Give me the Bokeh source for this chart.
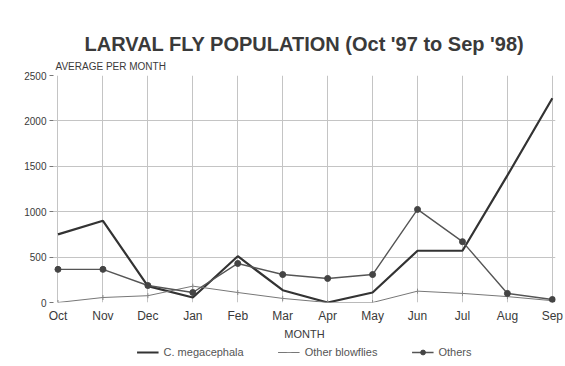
from bokeh.plotting import figure
from bokeh.layouts import column
from bokeh.models import (Range1d, FixedTicker, Title, Legend, LegendItem)
from bokeh.embed import file_html
from bokeh.resources import INLINE

months = ["Oct", "Nov", "Dec", "Jan", "Feb", "Mar", "Apr", "May", "Jun", "Jul", "Aug", "Sep"]
c_megacephala = [750, 900, 180, 55, 510, 135, 0, 110, 570, 570, 1400, 2250]
other_blowflies = [0, 55, 75, 180, 110, 45, 0, 0, 125, 100, 65, 20]
others = [365, 365, 187, 110, 430, 308, 265, 308, 1025, 670, 100, 33]
y_ticks = [0, 500, 1000, 1500, 2000, 2500]

x = list(range(len(months)))
FONT = "Liberation Sans"
INK = "#3a3a3a"

p = figure(frame_width=502, frame_height=227, output_backend="svg", toolbar_location=None,
           x_range=Range1d(-0.1, 11.07), y_range=Range1d(0, 2500),
           min_border_left=53, min_border_right=10, min_border_top=75, min_border_bottom=44)
p.outline_line_color = None
p.background_fill_color = "white"
p.border_fill_color = "white"

# main title (outer) and subtitle (closest to the frame)
p.title.text = "LARVAL FLY POPULATION (Oct '97 to Sep '98)"
p.title.text_font = FONT
p.title.text_font_size = "20px"
p.title.text_font_style = "bold"
p.title.text_color = INK
p.title.align = "center"
p.title.standoff = 0
p.add_layout(Title(text="AVERAGE PER MONTH", text_font=FONT, text_font_size="10px",
                   text_font_style="normal", text_color=INK, align="left",
                   offset=2, standoff=8), "above")

p.xaxis.ticker = FixedTicker(ticks=x)
p.xaxis.major_label_overrides = {i: m for i, m in enumerate(months)}
p.yaxis.ticker = FixedTicker(ticks=y_ticks)
for ax in (p.xaxis, p.yaxis):
    ax.axis_line_color = None
    ax.major_label_text_font = FONT
    ax.major_label_text_color = INK
    ax.minor_tick_line_color = None
p.xaxis.major_tick_line_color = None
p.xaxis.major_tick_out = 0
p.xaxis.major_label_text_font_size = "12px"
p.xaxis.major_label_standoff = 6
p.yaxis.major_label_text_font_size = "10px"
p.yaxis.major_tick_line_color = "#777"
p.yaxis.major_tick_out = 4
p.yaxis.major_tick_in = 0
p.yaxis.major_label_standoff = 3
p.xaxis.axis_label = "MONTH"
p.xaxis.axis_label_text_font = FONT
p.xaxis.axis_label_text_font_size = "11px"
p.xaxis.axis_label_text_font_style = "normal"
p.xaxis.axis_label_text_color = INK
p.xaxis.axis_label_standoff = 2

p.grid.grid_line_color = "#c4c4c4"
p.grid.grid_line_width = 1

STY = dict(
    c=dict(line_color="#333333", line_width=2.2),
    o=dict(line_color="#777777", line_width=1),
    t=dict(line_color="#555555", line_width=1.4),
)
p.line(x, c_megacephala, **STY["c"])
p.line(x, other_blowflies, **STY["o"])
p.scatter(x, other_blowflies, marker="dash", angle=1.5708, size=5, line_color="#888888")
p.line(x, others, **STY["t"])
p.scatter(x, others, size=6, color="#444444")

# legend strip underneath (renderers hidden; only their legend keys are shown)
q = figure(width=565, height=20, output_backend="svg", toolbar_location=None,
           x_range=Range1d(-0.1, 11.07), y_range=Range1d(0, 2500),
           min_border=0, x_axis_type=None, y_axis_type=None)
q.outline_line_color = None
q.grid.visible = False
l1 = q.line(x, c_megacephala, visible=False, **STY["c"])
l2 = q.line(x, other_blowflies, visible=False, **STY["o"])
l2m = q.scatter(x, other_blowflies, marker="dash", angle=1.5708, size=5,
                line_color="#888888", visible=False)
l3 = q.line(x, others, visible=False, **STY["t"])
l3m = q.scatter(x, others, size=6, color="#444444", visible=False)
legend = Legend(items=[
    LegendItem(label="C. megacephala", renderers=[l1]),
    LegendItem(label="Other blowflies", renderers=[l2, l2m]),
    LegendItem(label="Others", renderers=[l3, l3m]),
], orientation="horizontal", location="top_center")
legend.label_text_font = FONT
legend.label_text_font_size = "11px"
legend.label_text_color = "#555"
legend.border_line_color = None
legend.background_fill_alpha = 0
legend.glyph_width = 22
legend.glyph_height = 12
legend.label_height = 12
legend.spacing = 34
legend.padding = 0
legend.margin = 0
q.add_layout(legend)

layout = column(p, q, spacing=0)
open("out.html", "w").write(file_html(layout, INLINE))
